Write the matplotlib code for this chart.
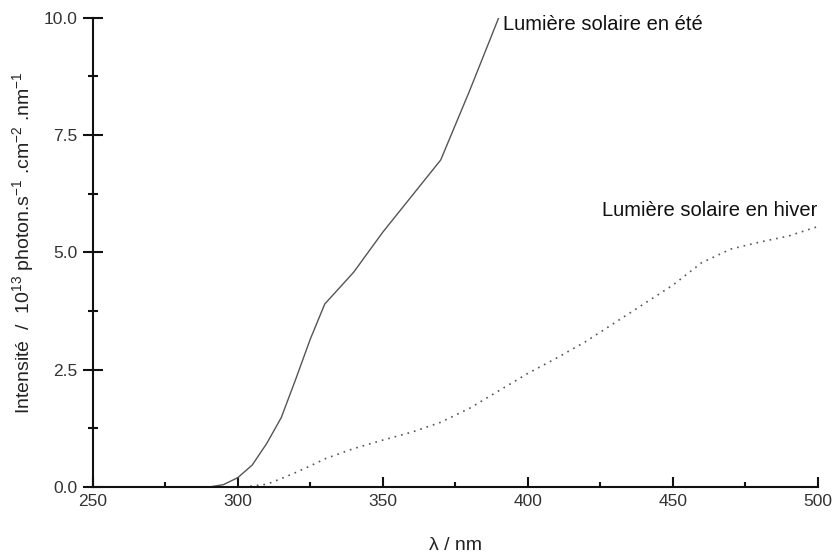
import numpy as np
import matplotlib
matplotlib.use("Agg")
import matplotlib.pyplot as plt
from matplotlib.ticker import MultipleLocator, FormatStrFormatter

plt.rcParams['font.family'] = ['Liberation Sans', 'DejaVu Sans']
plt.rcParams['mathtext.fontset'] = 'custom'
plt.rcParams['mathtext.rm'] = 'Liberation Sans'
plt.rcParams['mathtext.it'] = 'Liberation Sans'

# Summer sunlight (solid curve), intensity in 1e13 photon/s/cm2/nm
wl_ete = [290, 295, 300, 305, 310, 315, 320, 325, 330, 340, 350, 360, 370, 380, 390]
int_ete = [0.0, 0.05, 0.2, 0.47, 0.93, 1.48, 2.3, 3.15, 3.9, 4.58, 5.43, 6.2, 6.97, 8.45, 10.0]

# Winter sunlight (dotted curve)
wl_hiver = [302, 310, 315, 320, 325, 330, 340, 350, 360, 370, 380, 390, 400, 410,
            420, 430, 440, 450, 460, 470, 480, 490, 500]
int_hiver = [0.0, 0.06, 0.18, 0.31, 0.45, 0.6, 0.82, 1.0, 1.17, 1.38, 1.68, 2.05, 2.42, 2.75,
             3.1, 3.5, 3.9, 4.3, 4.78, 5.07, 5.22, 5.35, 5.55]

fig = plt.figure(figsize=(8.36, 5.56), dpi=100)
ax = fig.add_axes([0.111, 0.124, 0.867, 0.844])

ax.plot(wl_ete, int_ete, color='#555555', linewidth=1.0)
ax.plot(wl_hiver, int_hiver, color='#555555', linewidth=1.2, linestyle=(0, (1, 3)))

ax.text(391.5, 9.85, 'Lumière solaire en été', fontsize=14.5, va='center', ha='left', color='#111111')
ax.text(425.5, 5.9, 'Lumière solaire en hiver', fontsize=14.5, va='center', ha='left', color='#111111')

ax.set_xlim(250, 500)
ax.set_ylim(0, 10)
ax.xaxis.set_major_locator(MultipleLocator(50))
ax.xaxis.set_minor_locator(MultipleLocator(25))
ax.yaxis.set_major_locator(MultipleLocator(2.5))
ax.yaxis.set_minor_locator(MultipleLocator(1.25))
ax.yaxis.set_major_formatter(FormatStrFormatter('%.1f'))

for s in ['top', 'right']:
    ax.spines[s].set_visible(False)
for s in ['left', 'bottom']:
    ax.spines[s].set_linewidth(1.5)
    ax.spines[s].set_color('#111111')

ax.tick_params(axis='x', which='major', direction='in', length=7.2, width=1.5,
               labelsize=12.5, labelcolor='#333333', pad=5, color='#111111')
ax.tick_params(axis='x', which='minor', direction='in', length=3.8, width=1.5, color='#111111')
ax.tick_params(axis='y', which='major', direction='inout', length=15, width=1.5,
               labelsize=12.5, labelcolor='#333333', pad=3.5, color='#111111')
ax.tick_params(axis='y', which='minor', direction='inout', length=6.5, width=1.5, color='#111111')

ax.set_xlabel('λ / nm', fontsize=14, color='#222222', labelpad=20)
ax.set_ylabel('Intensité  /  10$^{13}$ photon.s$^{-1}$ .cm$^{-2}$ .nm$^{-1}$',
              fontsize=14, color='#222222', labelpad=5)
ax.yaxis.set_label_coords(-0.078, 0.52)

fig.savefig('out.png', dpi=100)
